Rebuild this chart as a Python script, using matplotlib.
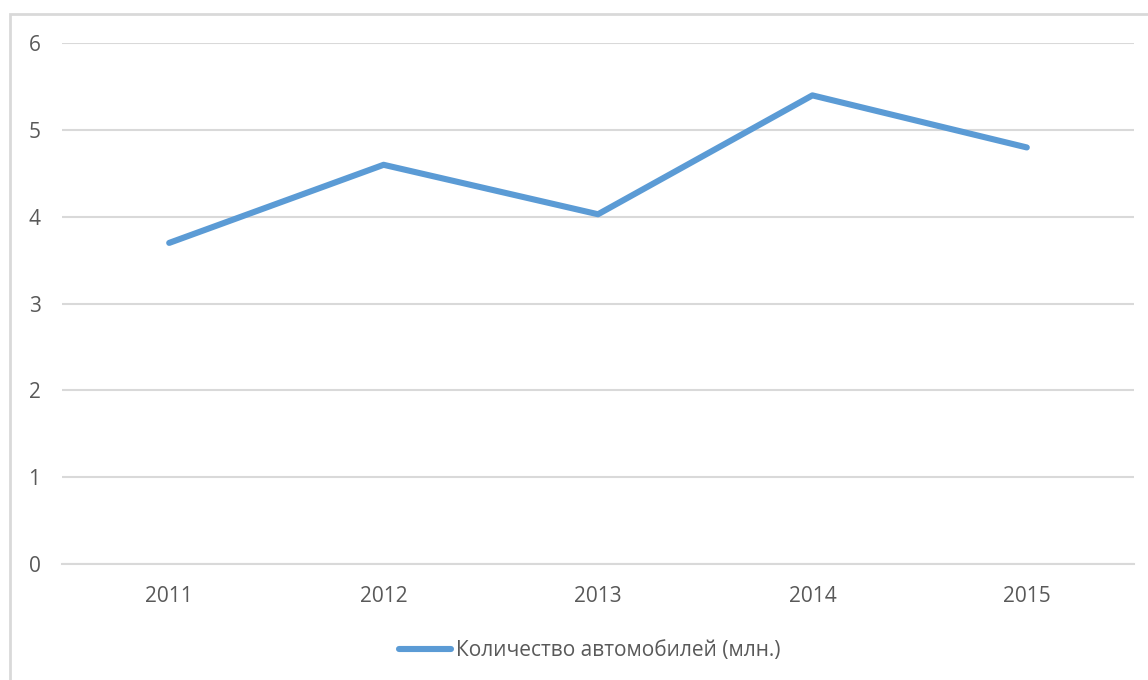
import matplotlib.pyplot as plt
from matplotlib.patches import Rectangle

years = ['2011', '2012', '2013', '2014', '2015']
cars = [3.7, 4.6, 4.03, 5.4, 4.8]
series_label = 'Количество автомобилей (млн.)'

plt.rcParams['font.family'] = ['Open Sans', 'DejaVu Sans']

fig = plt.figure(figsize=(11.48, 6.80), dpi=100)

# chart frame (runs off the right and bottom edges)
fig.patches.append(Rectangle((10 / 1148, -0.1), 1.2, 1 - 14 / 680 + 0.1,
                             transform=fig.transFigure, fill=False,
                             edgecolor='#d9d9d9', linewidth=2))

ax = fig.add_axes([62 / 1148, 1 - 564 / 680, (1134 - 62) / 1148, (564 - 43.3) / 680])

x = range(len(years))
ax.plot(x, cars, color='#5b9bd5', linewidth=4.4, solid_capstyle='round',
        solid_joinstyle='round', label=series_label, zorder=3)

ax.set_xlim(-0.5, len(years) - 0.5)
ax.set_ylim(0, 6)
ax.set_yticks(range(0, 7))
ax.set_xticks(list(x))
ax.set_xticklabels(years)

ax.grid(axis='y', color='#d9d9d9', linewidth=1.5)
ax.set_axisbelow(True)
for side in ['top', 'right', 'left']:
    ax.spines[side].set_visible(False)
ax.spines['bottom'].set_color('#d9d9d9')
ax.spines['bottom'].set_linewidth(1.5)

ax.tick_params(axis='both', length=0, labelsize=15, labelcolor='#595959')
ax.tick_params(axis='y', pad=15.5)
ax.tick_params(axis='x', pad=16)

ax.legend(loc='center', bbox_to_anchor=(0.492, -0.167), frameon=False,
          fontsize=15, labelcolor='#595959', handlelength=2.5,
          handletextpad=0.25)

fig.savefig('out.png', dpi=100)
